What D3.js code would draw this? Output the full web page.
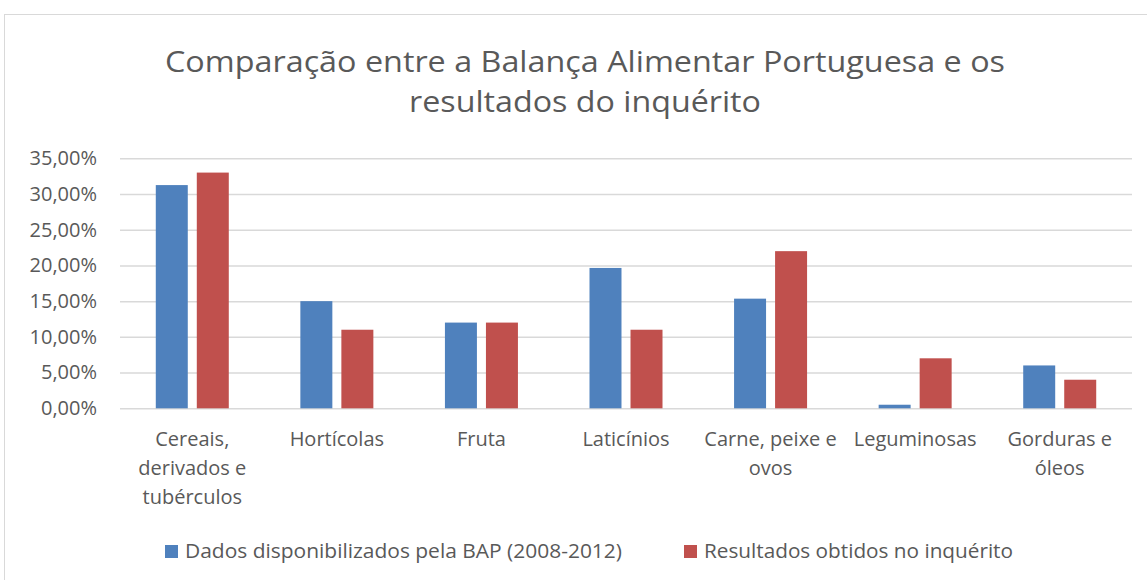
<!DOCTYPE html>
<html>
<head>
<meta charset="utf-8">
<script src="https://cdn.jsdelivr.net/npm/d3@7"></script>
<style>
  body { margin: 0; background: #fff; }
  text { font-family: "Open Sans", sans-serif; fill: #595959; }
</style>
</head>
<body>
<svg id="chart" width="1147" height="580"></svg>
<script>
const categories = ['Cereais, derivados e tubérculos', 'Hortícolas', 'Fruta', 'Laticínios', 'Carne, peixe e ovos', 'Leguminosas', 'Gorduras e óleos'];
const seriesNames = ['Dados disponibilizados pela BAP (2008-2012)', 'Resultados obtidos no inquérito'];
const bapValues = [0.3125, 0.150, 0.120, 0.1965, 0.1535, 0.005, 0.060];
const inqueritoValues = [0.330, 0.110, 0.120, 0.110, 0.220, 0.070, 0.040];
const yTicks = [0, 0.05, 0.10, 0.15, 0.20, 0.25, 0.30, 0.35];
const colours = ['#4F81BD', '#C0504D'];
const titleLines = ['Comparação entre a Balança Alimentar Portuguesa e os', 'resultados do inquérito'];

const svg = d3.select('#chart');

// chart area border (runs off the right/bottom edge like the screenshot)
svg.append('rect')
  .attr('x', 4.5).attr('y', 14.5)
  .attr('width', 1200).attr('height', 700)
  .attr('fill', 'none').attr('stroke', '#D9D9D9');

const plotLeft = 120, plotRight = 1132, plotTop = 158.3, plotBottom = 408.3;

const x0 = d3.scaleBand().domain(categories).range([plotLeft, plotRight]);
const step = x0.bandwidth();
const x1 = d3.scaleBand().domain(seriesNames)
  .range([(step - 73) / 2, (step + 73) / 2])
  .paddingInner(0.22);
const y = d3.scaleLinear().domain([0, 0.35]).range([plotBottom, plotTop]);

const fmt = v => (v * 100).toFixed(2).replace('.', ',') + '%';

// title - stretched to the widths in the screenshot (Calibri isn't available)
const titleWidths = [840, 352];
svg.append('g').selectAll('text')
  .data(titleLines)
  .join('text')
  .attr('x', 585)
  .attr('y', (d, i) => 72 + i * 40)
  .attr('text-anchor', 'middle')
  .attr('textLength', (d, i) => titleWidths[i])
  .attr('lengthAdjust', 'spacingAndGlyphs')
  .style('font-size', '30px')
  .text(d => d);

// y axis + gridlines
const yAxis = svg.append('g')
  .attr('transform', `translate(${plotLeft},0)`)
  .call(d3.axisLeft(y).tickValues(yTicks).tickFormat(fmt).tickSize(-(plotRight - plotLeft)).tickPadding(23));
yAxis.select('.domain').remove();
yAxis.selectAll('line').attr('stroke', '#D9D9D9').attr('stroke-width', 1.5);
yAxis.selectAll('text')
  .attr('fill', '#595959')
  .style('font-family', '"Open Sans", sans-serif')
  .style('font-size', '20px');

// bars
const rows = categories.map((c, i) => ({ cat: c, vals: [bapValues[i], inqueritoValues[i]] }));
const groups = svg.append('g').selectAll('g')
  .data(rows)
  .join('g')
  .attr('transform', d => `translate(${x0(d.cat)},0)`);

groups.selectAll('rect')
  .data(d => d.vals.map((v, k) => ({ name: seriesNames[k], v, k })))
  .join('rect')
  .attr('x', d => x1(d.name))
  .attr('width', x1.bandwidth())
  .attr('y', d => y(d.v))
  .attr('height', d => y(0) - y(d.v))
  .attr('fill', d => colours[d.k]);

// category labels, wrapped to the band width
const catLabels = svg.append('g').selectAll('text')
  .data(categories)
  .join('text')
  .attr('text-anchor', 'middle')
  .attr('y', 446)
  .style('font-size', '20px');

catLabels.each(function(d) {
  const el = d3.select(this);
  const cx = x0(d) + step / 2;
  const words = d.split(' ');
  let line = [];
  let lineNo = 0;
  let tspan = el.append('tspan').attr('x', cx).attr('y', 446);
  words.forEach(w => {
    line.push(w);
    tspan.text(line.join(' '));
    if (tspan.node().getComputedTextLength() > step - 4 && line.length > 1) {
      line.pop();
      tspan.text(line.join(' '));
      line = [w];
      lineNo++;
      tspan = el.append('tspan').attr('x', cx).attr('y', 446 + lineNo * 29).text(w);
    }
  });
});

// legend
const legendX = [165, 684];
const legendWidths = [437, 309];
const legend = svg.append('g').selectAll('g')
  .data(seriesNames)
  .join('g')
  .attr('transform', (d, i) => `translate(${legendX[i]},545)`);
legend.append('rect')
  .attr('width', 13).attr('height', 13)
  .attr('fill', (d, i) => colours[i]);
legend.append('text')
  .attr('x', 20).attr('y', 12.5)
  .attr('textLength', (d, i) => legendWidths[i])
  .attr('lengthAdjust', 'spacingAndGlyphs')
  .style('font-size', '20px')
  .text(d => d);
</script>
</body>
</html>
